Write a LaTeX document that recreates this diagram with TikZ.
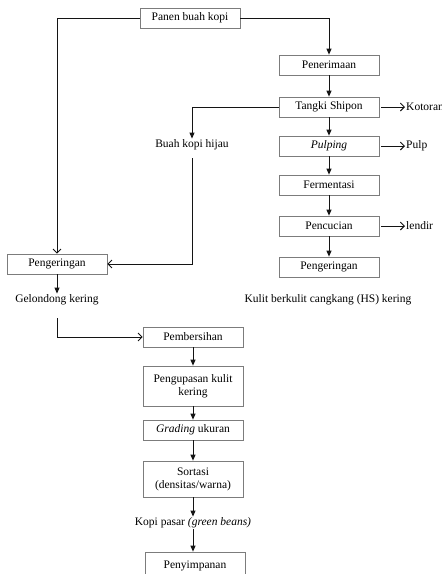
\documentclass[tikz,border=0pt]{standalone}
\usepackage{fontspec}
\setmainfont{Liberation Serif}
\usetikzlibrary{arrows.meta,calc}
\definecolor{ink}{HTML}{141414}
\definecolor{boxline}{HTML}{7C7C7C}

\begin{document}
\begin{tikzpicture}[
  x=1pt, y=-1pt,
  font=\fontsize{11.5}{13}\selectfont,
  box/.style={draw=boxline, line width=0.7pt, fill=white,
              minimum width=100pt, minimum height=20pt, align=center, inner sep=1pt},
  txt/.style={inner sep=1pt},
  arr/.style={-{Triangle[length=6pt,width=5pt]}, draw=ink, line width=0.9pt},
  oarr/.style={-{Straight Barb[length=4pt,width=8pt]}, draw=ink, line width=0.9pt}
]
\useasboundingbox (0,0) rectangle (442,574);

% wet process column
\node[box] (panen)   at (190,18)  {Panen buah kopi};
\node[box] (terima)  at (329,65)  {Penerimaan};
\node[box] (tangki)  at (329,107) {Tangki Shipon};
\node[box] (pulping) at (329,146) {\textit{Pulping}};
\node[box] (ferm)    at (329,185) {Fermentasi};
\node[box] (cuci)    at (329,226) {Pencucian};
\node[box] (keringR) at (329,267) {Pengeringan};
\node[txt] (kulit)   at (328,300) {Kulit berkulit cangkang (HS) kering};

\node[txt, anchor=west] (kotoran) at (405,107) {Kotoran};
\node[txt, anchor=west] (pulp)    at (405,146) {Pulp};
\node[txt, anchor=west] (lendir)  at (405,226) {lendir};

\draw[arr] (panen.east) -| (terima.north);
\foreach \a/\b in {terima/tangki, tangki/pulping, pulping/ferm, ferm/cuci, cuci/keringR}
  \draw[arr] (\a) -- (\b);
\foreach \a/\b in {tangki/kotoran, pulping/pulp, cuci/lendir}
  \draw[oarr] ([xshift=2pt]\a.east) -- (\b.west);

% dry process column
\node[txt] (buah)      at (192,145) {Buah kopi hijau};
\node[box] (keringL)   at (57,264)  {Pengeringan};
\node[txt] (gelondong) at (57,300)  {Gelondong kering};
\coordinate (buahend) at (192,158);
\coordinate (gelend)  at (57,318);

\draw[arr]  (tangki.west) -| (buah.north);
\draw[oarr] (panen.west) -| (keringL.north);
\draw[oarr] (buahend) |- (keringL.east);
\draw[arr]  (keringL) -- (gelondong);

% hulling and grading
\node[box] (bersih)  at (193,337) {Pembersihan};
\node[box, minimum height=40pt] (kupas) at (193,386) {Pengupasan kulit\\kering};
\node[box] (grading) at (193,430) {\textit{Grading} ukuran};
\node[box, minimum height=36pt] (sortasi) at (193,479) {Sortasi\\(densitas/warna)};
\node[txt] (pasar)   at (193,523) {Kopi pasar \textit{(green beans)}};
\node[box, minimum height=28pt] (simpan) at (195,566) {Penyimpanan};

\draw[oarr] (gelend) |- (bersih.west);
\foreach \a/\b in {bersih/kupas, kupas/grading, grading/sortasi, sortasi/pasar}
  \draw[arr] (\a) -- (\b);
\draw[arr] (pasar.south) -- (pasar.south |- simpan.north);

\end{tikzpicture}
\end{document}
